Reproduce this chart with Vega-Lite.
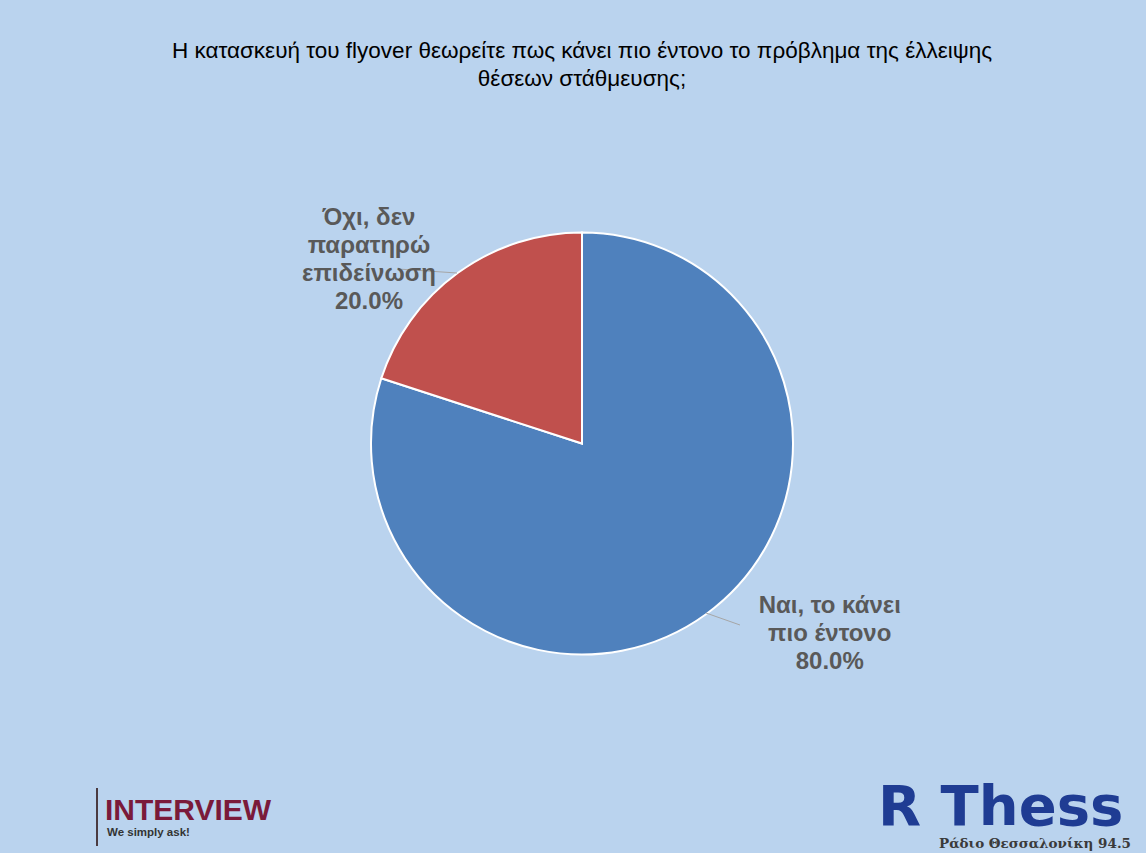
{
  "$schema": "https://vega.github.io/schema/vega-lite/v6.json",
  "width": 1128,
  "height": 819,
  "autosize": {"type": "none"},
  "padding": {"left": 18, "top": 34, "right": 0, "bottom": 0},
  "background": "#BAD3EE",
  "config": {"view": {"stroke": null}, "font": "Liberation Sans"},
  "title": {
    "text": ["Η κατασκευή του flyover θεωρείτε πως κάνει πιο έντονο το πρόβλημα της έλλειψης", "θέσεων στάθμευσης;"],
    "anchor": "middle",
    "frame": "group",
    "font": "Liberation Sans",
    "fontSize": 22.5,
    "fontWeight": "normal",
    "color": "#000000",
    "lineHeight": 28,
    "offset": -56
  },
  "data": {
    "values": [
      {"answer": "Ναι, το κάνει πιο έντονο", "label": "Ναι, το κάνει\nπιο έντονο\n80.0%", "pct": 80, "order": 1},
      {"answer": "Όχι, δεν παρατηρώ επιδείνωση", "label": "Όχι, δεν\nπαρατηρώ\nεπιδείνωση\n20.0%", "pct": 20, "order": 2}
    ]
  },
  "layer": [
    {
      "mark": {"type": "arc", "outerRadius": 211, "stroke": "white", "strokeWidth": 2},
      "encoding": {
        "theta": {"field": "pct", "type": "quantitative", "stack": true},
        "order": {"field": "order", "type": "quantitative"},
        "color": {
          "field": "answer",
          "type": "nominal",
          "scale": {"domain": ["Ναι, το κάνει πιο έντονο", "Όχι, δεν παρατηρώ επιδείνωση"], "range": ["#4F81BD", "#C0504D"]},
          "legend": null
        }
      }
    },
    {
      "data": {"values": [{"t": "leader"}]},
      "mark": {"type": "rule", "color": "#A6A6A6", "strokeWidth": 1},
      "encoding": {"x": {"value": 380}, "y": {"value": 235}, "x2": {"value": 439}, "y2": {"value": 239}}
    },
    {
      "data": {"values": [{"t": "leader"}]},
      "mark": {"type": "rule", "color": "#A6A6A6", "strokeWidth": 1},
      "encoding": {"x": {"value": 688}, "y": {"value": 579}, "x2": {"value": 722}, "y2": {"value": 591}}
    },
    {
      "mark": {"type": "text", "radius": 274, "dx": -52, "dy": -4, "lineBreak": "\n", "fontSize": 24, "fontWeight": "bold", "color": "#595959", "lineHeight": 28, "align": "center", "baseline": "middle"},
      "encoding": {
        "theta": {"field": "pct", "type": "quantitative", "stack": true},
        "order": {"field": "order", "type": "quantitative"},
        "text": {"condition": {"test": "datum.order == 2", "field": "label"}, "value": ""}
      }
    },
    {
      "mark": {"type": "text", "radius": 299, "dx": 72, "dy": -79, "lineBreak": "\n", "fontSize": 24, "fontWeight": "bold", "color": "#595959", "lineHeight": 28, "align": "center", "baseline": "middle"},
      "encoding": {
        "theta": {"field": "pct", "type": "quantitative", "stack": true},
        "order": {"field": "order", "type": "quantitative"},
        "text": {"condition": {"test": "datum.order == 1", "field": "label"}, "value": ""}
      }
    },
    {
      "data": {"values": [{"t": "INTERVIEW"}]},
      "mark": {"type": "text", "align": "left", "baseline": "alphabetic", "fontSize": 30, "fontWeight": "bold", "color": "#7A1A3A"},
      "encoding": {"text": {"field": "t"}, "x": {"value": 87}, "y": {"value": 786}}
    },
    {
      "data": {"values": [{"t": "We simply ask!"}]},
      "mark": {"type": "text", "align": "left", "baseline": "alphabetic", "fontSize": 11.5, "fontWeight": "bold", "color": "#333333"},
      "encoding": {"text": {"field": "t"}, "x": {"value": 89}, "y": {"value": 802}}
    },
    {
      "data": {"values": [{"t": "divider"}]},
      "mark": {"type": "rule", "color": "#4A3A40", "strokeWidth": 2},
      "encoding": {"x": {"value": 79}, "y": {"value": 754}, "y2": {"value": 812}}
    },
    {
      "data": {"values": [{"t": "R Thess"}]},
      "mark": {"type": "text", "align": "left", "baseline": "alphabetic", "font": "DejaVu Sans", "fontSize": 56, "fontWeight": "bold", "color": "#1F3C93"},
      "encoding": {"text": {"field": "t"}, "x": {"value": 860}, "y": {"value": 791}}
    },
    {
      "data": {"values": [{"t": "Ράδιο Θεσσαλονίκη 94.5"}]},
      "mark": {"type": "text", "align": "right", "baseline": "alphabetic", "font": "DejaVu Serif", "fontSize": 13.5, "fontWeight": "bold", "color": "#3A3A3A"},
      "encoding": {"text": {"field": "t"}, "x": {"value": 1113}, "y": {"value": 814}}
    }
  ]
}
